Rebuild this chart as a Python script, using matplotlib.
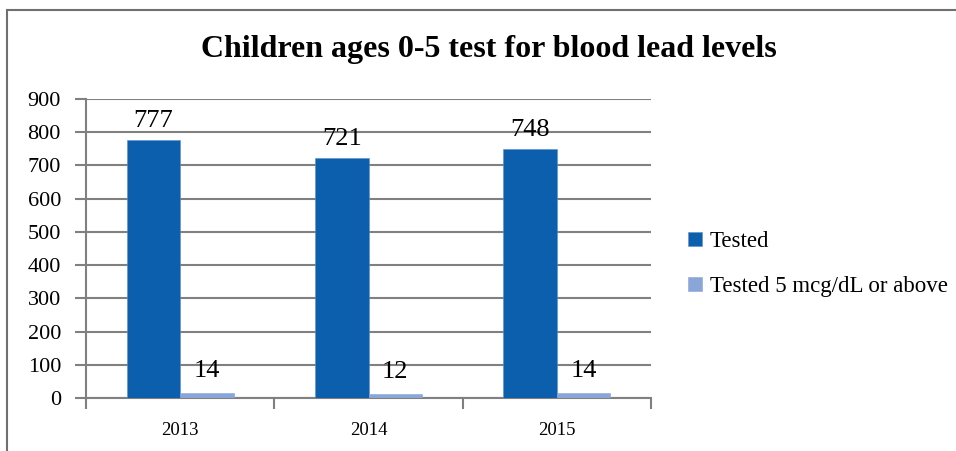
import matplotlib
matplotlib.use("Agg")
import matplotlib.pyplot as plt
from matplotlib.patches import Rectangle
import numpy as np

years = ["2013", "2014", "2015"]
tested = [777, 721, 748]
tested_5plus = [14, 12, 14]
series_names = ["Tested", "Tested 5 mcg/dL or above"]
yticks = [0, 100, 200, 300, 400, 500, 600, 700, 800, 900]

c_dark = "#0C5FAD"
c_light = "#8AA5D8"
grid_c = "#808080"

plt.rcParams['font.family'] = ['Liberation Serif', 'DejaVu Serif']

fig = plt.figure(figsize=(9.56, 4.51), dpi=100)
fig.patch.set_facecolor("white")
# outer frame (top and left visible)
fig.add_artist(Rectangle((7/956, -0.1), 1.2, (1 - 10/451) + 0.1, transform=fig.transFigure,
                         fill=False, edgecolor="#707070", linewidth=1.5))

ax = fig.add_axes([86/956, 1 - 398/451, (651 - 86)/956, (398 - 99)/451])
x = np.arange(len(years))
w = 0.284
b1 = ax.bar(x - w/2, tested, w, color=c_dark, edgecolor="#5a8fd0", linewidth=0.4, label=series_names[0], zorder=3)
b2 = ax.bar(x + w/2, tested_5plus, w, color=c_light, edgecolor=c_light, linewidth=0.4, label=series_names[1], zorder=3)

ax.set_xlim(-0.5, len(years) - 0.5)
ax.set_ylim(0, 900)
ax.set_yticks(yticks)
ax.set_yticklabels([str(v) for v in yticks], fontsize=16)
ax.yaxis.grid(True, color=grid_c, linewidth=1.5, zorder=0)
ax.set_axisbelow(True)

ax.set_xticks(x)
ax.set_xticklabels(years, fontsize=13.5)
ax.tick_params(axis='x', length=0, pad=17)
ax.set_xticks(np.arange(len(years) + 1) - 0.5, minor=True)
ax.tick_params(axis='x', which='minor', length=8, width=1.5, color=grid_c)
ax.tick_params(axis='y', length=8, width=1.5, color=grid_c, pad=10)

for s in ["top", "right"]:
    ax.spines[s].set_visible(False)
for s in ["left", "bottom"]:
    ax.spines[s].set_color(grid_c)
    ax.spines[s].set_linewidth(1.5)

for rect, v in zip(b1, tested):
    ax.annotate(str(v), (rect.get_x() + rect.get_width()/2, v), xytext=(0, 6),
                textcoords="offset points", ha="center", va="bottom", fontsize=19)
for rect, v in zip(b2, tested_5plus):
    ax.annotate(str(v), (rect.get_x() + rect.get_width()/2, v), xytext=(0, 8),
                textcoords="offset points", ha="center", va="bottom", fontsize=19)

fig.text(489/956, 1 - 50/451, "Children ages 0-5 test for blood lead levels",
         ha="center", va="center", fontsize=23, fontweight="bold")

leg = fig.legend(handles=[b1, b2], labels=series_names, loc="upper left",
                 bbox_to_anchor=(688/956, 1 - 231/451), frameon=False, fontsize=16.5,
                 handlelength=0.6, handleheight=0.6, handletextpad=0.35, labelspacing=1.05,
                 borderpad=0, borderaxespad=0)

fig.savefig("out.png", dpi=100)
